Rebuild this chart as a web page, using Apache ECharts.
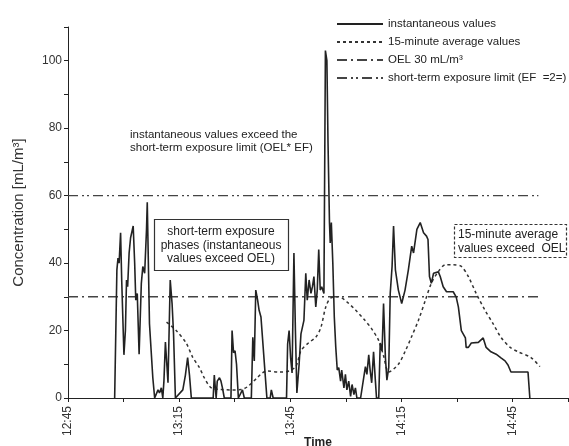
<!DOCTYPE html>
<html>
<head>
<meta charset="utf-8">
<script src="https://cdn.jsdelivr.net/npm/echarts@6/dist/echarts.min.js"></script>
<style>
  html, body { margin: 0; padding: 0; background: #fff; }
  #chart { width: 569px; height: 446px; }
</style>
</head>
<body>
<div id="chart"></div>
<script>
// time in minutes after midnight (765 = 12:45), concentration in mL/m3
const instTime = [
  777.6, 778.2, 778.5, 778.8, 779.2, 779.5, 780.1, 780.5, 780.8, 781.1, 781.5, 781.9,
  782.6, 783.0, 783.3, 783.7, 784.2, 784.8, 785.2, 785.7, 786.2, 786.4, 787.0, 787.9,
  788.4, 789.3, 789.7, 790.2, 790.6, 790.9, 791.3, 792.0, 792.6, 793.1, 793.5, 794.0,
  796.0, 796.7, 797.3, 797.8, 798.3, 804.2, 804.5, 805.0, 805.3, 805.9, 806.3, 806.7,
  807.2, 809.0, 809.3, 809.7, 810.1, 810.5, 811.0, 812.1, 812.6, 814.5, 814.9, 815.3,
  815.7, 816.2, 816.6, 817.1, 817.5, 818.1, 818.7, 819.6, 819.9, 820.4, 824.0, 824.3,
  824.7, 825.1, 825.5, 826.0, 826.4, 826.8, 827.4, 827.9, 828.7, 829.2, 829.6, 830.1,
  830.6, 831.0, 831.4, 831.9, 832.3, 832.7, 833.1, 833.5, 834.1, 834.5, 834.9, 835.2,
  835.6, 835.8, 836.1, 836.5, 836.9, 837.3, 837.7, 838.1, 838.6, 838.9, 839.5, 839.9,
  840.3, 840.8, 841.3, 841.7, 842.2, 842.6, 843.0, 844.0, 845.3, 845.7, 846.2, 846.6,
  847.0, 847.5, 848.0, 848.3, 848.9, 849.3, 849.8, 850.2, 850.7, 851.1, 851.6, 852.0,
  852.5, 852.9, 853.4, 854.2, 855.1, 856.0, 856.9, 857.8, 858.3, 859.2, 860.1, 861.0,
  861.8, 862.2, 862.6, 863.1, 863.7, 865.0, 865.5, 866.3, 867.2, 869.0, 869.8, 870.4,
  871.2, 872.3, 872.5, 873.1, 873.9, 875.8, 877.1, 877.9, 879.2, 880.6, 881.9, 883.0,
  883.8, 884.6, 889.2, 889.7
];
const instValue = [
  0, 38, 41.5, 40, 49, 35, 12.8, 20, 35, 33, 43, 47.5,
  51, 40, 29, 31, 13, 34, 39, 37, 50, 58, 22, 6,
  0, 2.4, 1.5, 3, 0, 5, 16.6, 4.5, 35, 28, 19, 0,
  2.4, 6.8, 12, 6.8, 0, 0, 6.8, 0, 5, 6, 5, 3,
  0, 0, 20, 13.4, 14, 10, 0, 2.4, 0, 0, 18, 11,
  32, 29, 26, 24, 18, 9, 0, 0, 2.4, 0, 0, 16,
  20, 12, 7.4, 43, 20, 1.5, 10, 19, 23, 37, 29, 35,
  31, 33, 36, 27, 32, 44, 32, 33, 31, 103, 100, 76,
  52, 46, 52, 40, 24, 15, 8.3, 9, 5, 8.3, 3, 7,
  2.4, 5, 0.5, 4, 1, 3, 0, 0, 9.3, 7, 12.8, 8,
  4.5, 13.7, 5, 0, 0, 16.3, 14, 28, 12, 5.3, 9, 31,
  39, 51, 38, 32, 28, 32, 38, 45, 43, 50, 52, 49,
  48, 47, 36, 34, 37, 37.4, 36, 33, 31.5, 31.5, 30, 27,
  20, 17.8, 15, 15, 16.3, 16.5, 17.8, 15, 13.7, 13, 11.9, 11,
  9.8, 7.7, 7.7, 0
];

const avgTime = [
  791.6, 794.2, 796.9, 798.7, 800.5, 801.8, 803.7, 806.4, 809.1, 811.8, 813.4, 816.1,
  817.4, 818.8, 822.0, 824.7, 826.6, 827.9, 830.1, 831.9, 833.3, 834.6, 836.0, 838.1,
  840.3, 842.7, 844.8, 847.0, 848.9, 850.2, 851.6, 854.2, 856.1, 857.7, 859.6, 861.5,
  863.1, 865.0, 866.9, 869.0, 871.2, 873.1, 875.2, 877.6, 879.8, 881.9, 884.4, 886.5,
  890.0, 892.4
];
const avgValue = [
  22.5, 20, 16.3, 12, 9, 6, 3, 2.5, 2.4, 2.5, 3.3, 6,
  7.4, 8, 7.7, 8, 9.5, 14, 16.5, 18, 21, 27, 29.7, 30,
  28.5, 26, 23.5, 20.5, 17, 12.5, 7.7, 10, 14, 18, 23, 29,
  34, 37.5, 39.5, 39.5, 39, 36, 31, 26, 22, 18, 15, 13.7,
  12, 9.3
];

const limitTime = [765, 892];
const oelValue = 30;
const stelValue = 60;

const seriesNames = [
  'instantaneous values',
  '15-minute average values',
  'OEL 30 mL/m\u00b3',
  'short-term exposure limit (EF  =2=)'
];

const zip = (xs, ys) => xs.map((x, i) => [x, ys[i]]);
const flat = (xs, v) => xs.map(x => [x, v]);

const fmtTime = v => {
  if ((v - 765) % 30 !== 0) return '';
  const h = Math.floor(v / 60);
  const m = v % 60;
  return h + ':' + (m < 10 ? '0' + m : m);
};

const FONT = '"Liberation Sans", Arial, sans-serif';

const chart = echarts.init(document.getElementById('chart'));
chart.setOption({
  backgroundColor: '#fff',
  animation: false,
  textStyle: { fontFamily: FONT },
  grid: { left: 68, right: 1, top: 27, bottom: 48, outerBoundsMode: 'none' },
  legend: {
    orient: 'vertical',
    left: 331,
    top: 13,
    itemWidth: 46,
    itemHeight: 14,
    itemGap: 6,
    itemStyle: { opacity: 0 },
    textStyle: { fontFamily: FONT, fontSize: 11.5, color: '#222' },
    data: seriesNames
  },
  xAxis: {
    type: 'value',
    min: 765,
    max: 900,
    interval: 15,
    name: 'Time',
    nameLocation: 'middle',
    nameGap: 39,
    nameMoveOverlap: false,
    nameTextStyle: { fontFamily: FONT, fontSize: 12, fontWeight: 'bold', color: '#222' },
    axisLine: { lineStyle: { color: '#222', width: 1 } },
    axisTick: { length: 4, lineStyle: { color: '#222' } },
    axisLabel: {
      rotate: 90,
      margin: 8,
      fontSize: 12,
      color: '#333',
      fontFamily: FONT,
      formatter: fmtTime
    },
    splitLine: { show: false }
  },
  yAxis: {
    type: 'value',
    min: 0,
    max: 110,
    interval: 10,
    name: 'Concentration [mL/m\u00b3]',
    nameLocation: 'middle',
    nameGap: 42,
    nameTextStyle: { fontFamily: FONT, fontSize: 15, color: '#333' },
    axisLine: { show: true, lineStyle: { color: '#222', width: 1 } },
    axisTick: { show: true, length: 4, lineStyle: { color: '#222' } },
    axisLabel: {
      fontSize: 12,
      color: '#333',
      fontFamily: FONT,
      margin: 6,
      formatter: v => (v % 20 === 0 && v <= 100 ? String(v) : '')
    },
    splitLine: { show: false }
  },
  series: [
    {
      name: seriesNames[0],
      type: 'line',
      symbol: 'none',
      data: zip(instTime, instValue),
      lineStyle: { color: '#222', width: 1.6 },
      itemStyle: { color: '#222' },
      z: 5
    },
    {
      name: seriesNames[1],
      type: 'line',
      symbol: 'none',
      smooth: 0.3,
      data: zip(avgTime, avgValue),
      lineStyle: { color: '#333', width: 1.5, type: [3, 3] },
      itemStyle: { color: '#333' },
      z: 4
    },
    {
      name: seriesNames[2],
      type: 'line',
      symbol: 'none',
      data: flat(limitTime, oelValue),
      lineStyle: { color: '#444', width: 1.4, type: [10, 4, 2, 4] },
      itemStyle: { color: '#444' },
      z: 3
    },
    {
      name: seriesNames[3],
      type: 'line',
      symbol: 'none',
      data: flat(limitTime, stelValue),
      lineStyle: { color: '#444', width: 1.4, type: [10, 4, 2, 3, 2, 4] },
      itemStyle: { color: '#444' },
      z: 3
    }
  ],
  graphic: [
    {
      type: 'text',
      left: 130,
      top: 128,
      style: {
        text: 'instantaneous values exceed the\nshort-term exposure limit (OEL* EF)',
        font: '11.5px ' + FONT,
        fill: '#222',
        lineHeight: 13
      }
    },
    {
      type: 'rect',
      shape: { x: 154.5, y: 219.5, width: 134, height: 51 },
      style: { fill: '#fff', stroke: '#333', lineWidth: 1.2 },
      z: 10
    },
    {
      type: 'text',
      x: 221,
      y: 225,
      z: 11,
      style: {
        text: 'short-term exposure\nphases (instantaneous\nvalues exceed OEL)',
        font: '12px ' + FONT,
        fill: '#222',
        align: 'center',
        lineHeight: 13.5
      }
    },
    {
      type: 'rect',
      shape: { x: 454.5, y: 224.5, width: 112, height: 33 },
      style: { fill: '#fff', stroke: '#333', lineWidth: 1.2, lineDash: [3, 2] },
      z: 10
    },
    {
      type: 'text',
      x: 458,
      y: 228,
      z: 11,
      style: {
        text: '15-minute average\nvalues exceed  OEL',
        font: '12px ' + FONT,
        fill: '#222',
        lineHeight: 14
      }
    }
  ]
});
</script>
</body>
</html>
